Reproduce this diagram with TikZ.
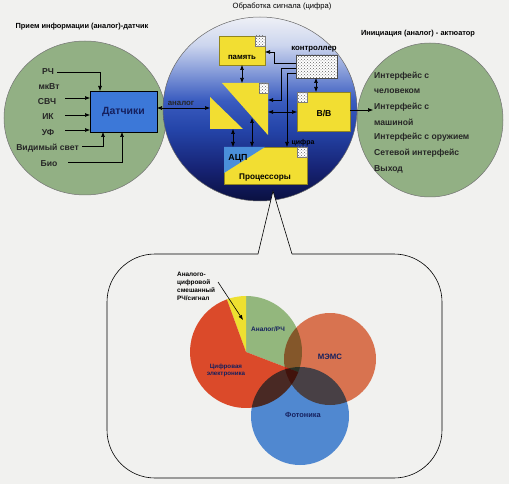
\documentclass[tikz,border=0pt]{standalone}
\usepackage{fontspec}
\setmainfont{Liberation Sans}
\setsansfont{Liberation Sans}
\usetikzlibrary{arrows.meta,patterns,calc}
\definecolor{bg}{HTML}{F1F1EF}
\definecolor{sage}{HTML}{92B084}
\definecolor{ylw}{HTML}{F2DE32}
\definecolor{sblue}{HTML}{3C78D8}
\definecolor{adcblue}{HTML}{4A8FDA}
\definecolor{pred}{HTML}{DB4A2A}
\definecolor{pgreen}{HTML}{93B77D}
\definecolor{pyel}{HTML}{EEE030}
\definecolor{mems}{HTML}{E57A56}
\definecolor{photo}{HTML}{5590DE}
\definecolor{txtnavy}{HTML}{15205E}
\definecolor{mc1}{HTML}{0A1040}
\definecolor{mc2}{HTML}{162272}
\definecolor{mc3}{HTML}{2444A8}
\definecolor{mc4}{HTML}{3A5CC0}
\definecolor{mc5}{HTML}{8A9FDA}
\definecolor{mc6}{HTML}{CCD5EE}
\definecolor{mc7}{HTML}{EEF0F6}
\pgfdeclareverticalshading{midcirc}{100bp}{color(0bp)=(mc1); color(25bp)=(mc1); color(33.4bp)=(mc2); color(44.3bp)=(mc3); color(52.4bp)=(mc4); color(60.6bp)=(mc5); color(67.4bp)=(mc6); color(75bp)=(mc7); color(100bp)=(mc7)}
\tikzset{
  ar/.style={-{Latex[length=5pt,width=4pt]}, line width=0.6pt},
  dar/.style={{Latex[length=5pt,width=4pt]}-{Latex[length=5pt,width=4pt]}, line width=0.6pt},
  ybox/.style={fill=ylw, draw=ylw!60!black, line width=0.3pt, inner sep=0pt, outer sep=0pt},
  dotsq/.style={draw=black!50, line width=0.3pt, fill=white, postaction={pattern=crosshatch dots, pattern color=black!60}, minimum size=10pt, inner sep=0pt, outer sep=0pt},
  ttl/.style={font=\bfseries\fontsize{7.4}{9}\selectfont},
  inp/.style={font=\bfseries\fontsize{8.6}{10}\selectfont, text=black!85},
  rtx/.style={font=\bfseries\fontsize{8.6}{10}\selectfont, text=black!85, anchor=west, inner sep=0pt},
  mlb/.style={font=\bfseries\fontsize{7.8}{9}\selectfont, inner sep=0pt},
  plb/.style={font=\bfseries\fontsize{6.5}{8}\selectfont, text=txtnavy, inner sep=0pt, align=center},
}
\begin{document}
\begin{tikzpicture}[x=1pt,y=1pt]
\useasboundingbox (0,0) rectangle (509,-484);
\fill[bg] (0,0) rectangle (509,-484);

% side circles
\fill[sage, draw=black!55, line width=0.5pt] (85,-118) ellipse [x radius=81pt, y radius=77pt];
\fill[sage, draw=black!55, line width=0.5pt] (430,-120) ellipse [x radius=73pt, y radius=77pt];
% middle circle
\shade[shading=midcirc] (260,-109) ellipse [x radius=97pt, y radius=92pt];
\draw[black!60, line width=0.5pt] (260,-109) ellipse [x radius=97pt, y radius=92pt];

% titles
\node[ttl] (t1) at (82,-27) {Прием информации (аналог)-датчик};
\node[ttl, font=\fontsize{7.6}{9}\selectfont] (t2) at (282,-7) {Обработка сигнала (цифра)};
\node[ttl] (t3) at (418,-34) {Инициация (аналог) - актюатор};

% left: sensors
\node[fill=sblue, draw=black, line width=0.6pt, minimum width=67pt, minimum height=41pt, inner sep=0pt, outer sep=0pt,
      font=\bfseries\fontsize{10.5}{12}\selectfont, text=txtnavy] (dat) at (123.5,-111.5) {Датчики};
\node[inp] (rch) at (48,-72) {РЧ};
\node[inp] (mkvt) at (49,-87) {мкВт};
\node[inp] (svch) at (47,-102) {СВЧ};
\node[inp] (ik) at (48,-117) {ИК};
\node[inp] (uf) at (48,-133) {УФ};
\node[inp] (vis) at (47.5,-148) {Видимый свет};
\node[inp] (bio) at (49,-164) {Био};
\draw[ar] (rch.east) -- (100,-72) -- (100,-91);
\draw[ar] (65,-98) -- (90,-98);
\draw[ar] (65,-115) -- (90,-115);
\draw[ar] (65,-130) -- (90,-130);
\draw[ar] (82,-146) -- (103,-146) -- (103,-132);
\draw[ar] (68,-162) -- (122,-162) -- (122,-132);

% middle blocks
\node[ybox, minimum width=46pt, minimum height=29pt] (mem) at (242,-50.5) {};
\node[dotsq] (memd) at (260,-41) {};
\node[mlb] at (242,-57) {память};

\node[dotsq, minimum width=41pt, minimum height=23pt, draw=black!70] (ctl) at (316.5,-66.5) {};
\node[mlb] at (314,-49) {контроллер};

\fill[ylw] (222,-83) -- (268,-83) -- (268,-135) -- cycle;
\node[dotsq, minimum width=9pt, minimum height=10pt] (trd) at (263.5,-88) {};
\fill[ylw] (210,-97) -- (210,-129) -- (243,-129) -- cycle;

\node[ybox, minimum width=53pt, minimum height=39pt] (vv) at (323.5,-111.5) {};
\node[dotsq] (vvd) at (302,-97) {};
\node[mlb, font=\bfseries\fontsize{8.6}{10}\selectfont] at (324,-113) {В/В};

\node[ybox, minimum width=83pt, minimum height=37pt] (proc) at (265.5,-165.5) {};
\fill[adcblue] (224,-147) -- (265,-147) -- (224,-173) -- cycle;
\node[dotsq] (prd) at (302,-152) {};
\node[mlb, font=\bfseries\fontsize{8.8}{10}\selectfont] at (238,-158) {АЦП};
\node[mlb, font=\bfseries\fontsize{8.2}{10}\selectfont] at (265,-178) {Процессоры};

% middle connectors
\draw[dar] (dat.east |- 0,-108) -- (210,-108);
\node[mlb, text=black!85] at (181,-103) {аналог};
\draw[dar] (mem.south) -- (242,-83);
\draw[ar] (296,-63) -- (274,-63) -- (274,-52) -- (mem.east |- 0,-52);
\draw[ar] (296,-68) -- (281,-68) -- (281,-100) -- (268,-100);
\draw[ar] (296,-73) -- (287,-73) -- (287,-147);
\node[mlb, font=\bfseries\fontsize{7}{8}\selectfont] at (303,-143) {цифра};
\draw[dar] (ctl.south -| 316,0) -- (316,-92);
\draw[dar] (268,-112) -- (vv.west |- 0,-112);
\coordinate (rin) at (373,-110);
\draw[ar] (vv.east |- 0,-110) -- (rin);
\draw[dar] (233,-129) -- (233,-147);
\draw[dar] (252,-118) -- (252,-147);

% right texts
\node[rtx] at (374,-76) {Интерфейс с};
\node[rtx] at (374,-91) {человеком};
\node[rtx] at (374,-107) {Интерфейс с};
\node[rtx] at (374,-122) {машиной};
\node[rtx] at (374,-137) {Интерфейс с оружием};
\node[rtx] at (374,-153) {Сетевой интерфейс};
\node[rtx] at (374,-169) {Выход};

% callout
\fill[bg] (258,-254) -- (273,-191) -- (292,-254) -- cycle;
\draw[line width=0.6pt] (258,-254) -- (273,-191) -- (292,-254);
\draw[line width=0.6pt, rounded corners=48pt] (258,-254) -- (107,-254) -- (107,-478) -- (442,-478) -- (442,-254) -- (292,-254);

% pie
\coordinate (pc) at (246,-352);
\fill[pgreen] (pc) -- ++(-21:56) arc[start angle=-21, end angle=90, radius=56pt] -- cycle;
\fill[pyel] (pc) -- ++(90:56) arc[start angle=90, end angle=110, radius=56pt] -- cycle;
\fill[pred] (pc) -- ++(110:56) arc[start angle=110, end angle=339, radius=56pt] -- cycle;
\begin{scope}[blend mode=multiply]
\fill[mems] (330,-359) circle[radius=46pt];
\fill[photo] (300,-416) circle[radius=49pt];
\end{scope}
\node[plb] at (268,-329) {Аналог/РЧ};
\node[plb, font=\bfseries\fontsize{7.8}{9}\selectfont] at (330,-357) {МЭМС};
\node[plb, font=\bfseries\fontsize{6.2}{6.8}\selectfont] at (226,-370) {Цифровая\\электроника};
\node[plb, font=\bfseries\fontsize{7.4}{9}\selectfont] at (303,-415) {Фотоника};
\node[plb, text=black, align=left, anchor=north west, font=\bfseries\fontsize{6.4}{7.9}\selectfont] (amix) at (177,-272) {Аналого-\\цифровой\\смешанный\\РЧ/сигнал};
\coordinate (amixend) at (243,-320);
\draw[ar, line width=0.6pt] (218,-282) -- (amixend);
\end{tikzpicture}
\end{document}
